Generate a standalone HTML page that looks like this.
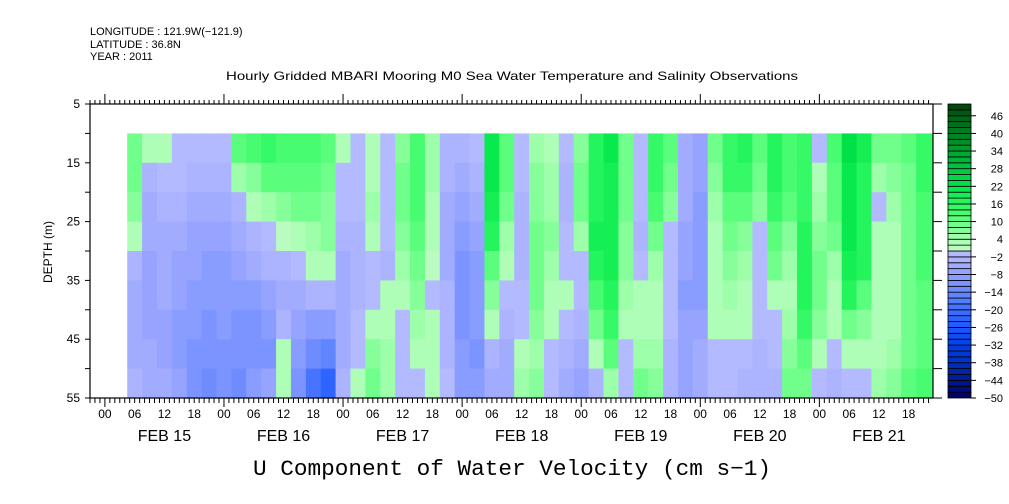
<!DOCTYPE html>
<html><head><meta charset="utf-8"><style>
html,body{margin:0;padding:0;background:#fff;}
svg{display:block;font-family:"Liberation Sans",sans-serif;}
</style></head><body>
<svg id="chart" width="1009" height="504" viewBox="0 0 1009 504" xmlns="http://www.w3.org/2000/svg">
<g font-size="11" fill="#000">
<text x="90" y="35">LONGITUDE : 121.9W(−121.9)</text>
<text x="90" y="48">LATITUDE : 36.8N</text>
<text x="90" y="60">YEAR : 2011</text>
</g>
<text x="512" y="80" font-size="12" text-anchor="middle" textLength="572" lengthAdjust="spacingAndGlyphs">Hourly Gridded MBARI Mooring M0 Sea Water Temperature and Salinity Observations</text>
<g id="cells"></g>
<g id="axes"></g>
<g id="cbar"></g>
<text transform="translate(52,252) rotate(-90)" font-size="12" text-anchor="middle"><tspan x="0" y="0">DEPTH (m)</tspan></text>
<text x="512" y="475" font-family="Liberation Mono, monospace" font-size="22" text-anchor="middle" textLength="518" lengthAdjust="spacingAndGlyphs">U Component of Water Velocity (cm s−1)</text>
</svg>
<script>
// time columns: start hour (relative to FEB 15 00) of each 3-hour column
const colStartHours = [4.5,7.5,10.5,13.5,16.5,19.5,22.5,25.5,28.5,31.5,34.5,37.5,40.5,43.5,46.5,49.5,52.5,55.5,58.5,61.5,64.5,67.5,70.5,73.5,76.5,79.5,82.5,85.5,88.5,91.5,94.5,97.5,100.5,103.5,106.5,109.5,112.5,115.5,118.5,121.5,124.5,127.5,130.5,133.5,136.5,139.5,142.5,145.5,148.5,151.5,154.5,157.5,160.5,163.5];
const depthBins = [10,15,20,25,30,35,40,45,50,55];
const uValues = [
[8,8,6,2,-4,-6,-6,-6,-4],
[2,-4,-6,-6,-8,-8,-8,-6,-6],
[2,-2,-4,-6,-6,-6,-8,-8,-6],
[-1,-2,-4,-6,-8,-8,-10,-10,-8],
[-2,-4,-6,-8,-8,-10,-10,-12,-12],
[-2,-4,-6,-8,-10,-10,-12,-12,-14],
[-2,-4,-6,-8,-10,-10,-10,-12,-12],
[10,4,-4,-6,-8,-10,-12,-12,-14],
[12,6,2,-4,-6,-10,-12,-12,-10],
[14,10,4,-2,-4,-8,-10,-12,-8],
[12,10,6,0,-4,-6,-4,2,2],
[12,10,8,2,-2,-6,-8,-10,-12],
[12,10,8,4,2,-4,-10,-14,-20],
[10,8,6,6,2,-4,-10,-16,-24],
[2,-2,-2,-4,-6,-6,-6,-6,-4],
[-2,-2,-2,-4,-4,-4,-2,-1,2],
[2,2,4,2,-2,-2,2,6,8],
[-2,-2,-1,-2,-4,2,2,4,4],
[6,8,8,6,4,2,-1,-2,-2],
[12,12,12,10,8,6,4,2,-1],
[4,4,2,2,0,-1,2,2,2],
[-4,-4,-6,-6,-6,-4,-4,-4,-2],
[-4,-6,-8,-10,-12,-12,-12,-10,-10],
[-2,-4,-6,-8,-10,-10,-10,-12,-10],
[20,20,18,16,10,6,2,-4,-6],
[10,10,8,4,2,-2,-4,-6,-6],
[-2,-2,-4,-4,-4,-2,-2,2,4],
[4,6,6,8,8,8,6,4,6],
[2,4,4,6,4,2,2,-2,-2],
[-2,-4,-4,-2,-1,2,-1,-4,-6],
[6,8,8,4,-1,-2,-4,-6,-8],
[16,16,16,18,16,12,8,2,-4],
[20,18,18,18,18,16,14,10,4],
[8,8,8,6,6,4,2,-1,-2],
[-2,-2,-2,-4,-2,2,2,4,8],
[14,14,12,8,4,2,2,4,6],
[10,8,6,-1,-2,-2,-2,-4,-4],
[-6,-6,-6,-8,-8,-10,-8,-8,-8],
[-8,-8,-10,-10,-10,-10,-8,-6,-6],
[8,6,4,2,2,2,2,-1,-2],
[14,14,10,8,6,4,2,-1,-2],
[16,14,10,6,4,2,2,-2,-4],
[10,8,6,-1,-2,-2,-2,-4,-4],
[16,16,14,10,8,2,-2,-2,-4],
[12,12,10,6,4,2,4,6,8],
[14,14,14,16,16,16,14,10,8],
[-1,2,4,6,8,8,6,2,-1],
[12,10,10,8,4,2,2,-2,-4],
[22,20,20,20,18,16,8,2,-2],
[18,16,16,16,16,10,6,2,-2],
[8,4,-1,2,2,2,2,2,4],
[8,6,4,2,2,2,2,4,6],
[10,8,8,8,8,8,8,8,10],
[14,14,12,12,12,10,10,10,12]
];
const depthTicks = [5,15,25,35,45,55];
const hourTickLabels = ["00","06","12","18"];
const dayLabels = ["FEB 15","FEB 16","FEB 17","FEB 18","FEB 19","FEB 20","FEB 21"];
const cbarLabels = [-50,-44,-38,-32,-26,-20,-14,-8,-2,4,10,16,22,28,34,40,46];

const NS="http://www.w3.org/2000/svg";
const X0=90,X1=933,Y0=104,Y1=398;
const H0=-3.0, H1=166.9;
const D0=5, D1=55;
const xs=h=>X0+(h-H0)*(X1-X0)/(H1-H0);
const ys=d=>Y0+(d-D0)*(Y1-Y0)/(D1-D0);
function mk(tag,attrs,parent){const e=document.createElementNS(NS,tag);for(const k in attrs)e.setAttribute(k,attrs[k]);parent.appendChild(e);return e;}
const anchors=[[-50,[0,0,96]],[-44,[0,24,144]],[-38,[0,48,192]],[-32,[0,64,232]],[-26,[32,88,255]],[-20,[64,112,255]],[-14,[104,136,255]],[-8,[144,160,255]],[-2,[178,184,255]],[0,[192,250,196]],[4,[168,255,178]],[10,[100,255,130]],[16,[44,248,96]],[22,[0,230,72]],[28,[0,200,64]],[34,[0,160,48]],[40,[0,128,32]],[46,[0,96,24]],[50,[0,64,16]]];
function colorFor(v){
  let b=Math.floor((v+50)/2); b=Math.max(0,Math.min(49,b));
  const c=-50+b*2+1;
  if(c<0 && c>-2) return "rgb(180,186,255)";
  for(let i=0;i<anchors.length-1;i++){
    const [a,ca]=anchors[i],[bb,cb]=anchors[i+1];
    if(c>=a&&c<=bb){const t=(c-a)/(bb-a);return "rgb("+ca.map((q,j)=>Math.round(q+(cb[j]-q)*t)).join(",")+")";}
  }
  return "rgb(0,64,16)";
}
const cells=document.getElementById('cells');
uValues.forEach((col,i)=>{
  const h0=colStartHours[i], h1=(i+1<colStartHours.length)?colStartHours[i+1]:H1-0.2;
  col.forEach((v,j)=>{
    const x=xs(h0),x2=xs(h1),y=ys(depthBins[j]),y2=ys(depthBins[j+1]);
    const r=mk('rect',{x:x.toFixed(2),y:y.toFixed(2),width:(x2-x+0.6).toFixed(2),height:(y2-y+0.6).toFixed(2),fill:colorFor(v)},cells);
    
    
  });
});
const axes=document.getElementById('axes');
const frame=mk('rect',{x:X0,y:Y0,width:X1-X0,height:Y1-Y0,fill:'none',stroke:'#000','stroke-width':1.2},axes);


for(let d=5;d<=55;d+=5){
  mk('line',{x1:X0-5,x2:X0,y1:ys(d),y2:ys(d),stroke:'#000'},axes);
  mk('line',{x1:X1,x2:X1+9,y1:ys(d),y2:ys(d),stroke:'#000'},axes);
}
depthTicks.forEach(d=>{
  const t=mk('text',{x:X0-10,y:ys(d)+4,'font-size':12,'text-anchor':'end'},axes);t.textContent=d;
  
  
});
for(let h=-3;h<=166;h++){
  const x=xs(h);const major=((h%24)+24)%24===0;
  mk('line',{x1:x,x2:x,y1:Y0,y2:Y0-(major?10:4),stroke:'#000'},axes);
  mk('line',{x1:x,x2:x,y1:Y1,y2:Y1+(major?9:5),stroke:'#000'},axes);
  if(h%6===0){
    const t=mk('text',{x:x,y:418,'font-size':12,'text-anchor':'middle'},axes);
    t.textContent=hourTickLabels[((h%24)+24)%24/6];
    
    
  }
}
dayLabels.forEach((l,i)=>{
  const t=mk('text',{x:xs(i*24+12),y:441,'font-size':16,'text-anchor':'middle'},axes);t.textContent=l;
  
  
});
const cb=document.getElementById('cbar');
const CX=948,CW=23;
const cy=v=>Y1-(v+50)*(Y1-Y0)/100;
for(let b=0;b<50;b++){
  const v=-50+b*2;
  const r=mk('rect',{x:CX,y:cy(v+2),width:CW,height:cy(v)-cy(v+2),fill:colorFor(v+1),stroke:'#000','stroke-width':0.8},cb);
  
  
}
cbarLabels.forEach(v=>{
  mk('line',{x1:CX+CW,x2:CX+CW+5,y1:cy(v),y2:cy(v),stroke:'#000'},cb);
  const t=mk('text',{x:1003,y:cy(v)+4,'font-size':11,'text-anchor':'end'},cb);t.textContent=(v<0?'−'+(-v):v);
  
  
});
</script>
</body></html>
